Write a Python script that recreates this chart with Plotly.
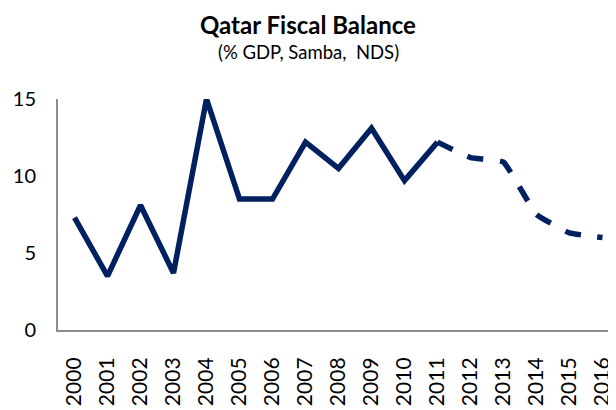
import plotly.graph_objects as go

years = [str(y) for y in range(2000, 2017)]
actual = [7.3, 3.5, 8.1, 3.7, 15.0, 8.5, 8.5, 12.2, 10.5, 13.1, 9.7, 12.2]
forecast = [12.2, 11.2, 10.9, 7.5, 6.3, 6.0]

navy = "#002060"

fig = go.Figure()
fig.add_trace(go.Scatter(x=years[:12], y=actual, mode="lines",
                         line=dict(color=navy, width=5.5), showlegend=False))
fig.add_trace(go.Scatter(x=years[11:], y=forecast, mode="lines",
                         line=dict(color=navy, width=5.5, dash="dash", shape="spline", smoothing=0.3),
                         showlegend=False))

# page body has an 8px margin, so offsets below are relative to the figure
L, T, B, R = 50, 91, 88, 5
plot_h = 410 - T - B
plot_w = 616 - L - R

fig.update_layout(
    width=616, height=410,
    margin=dict(l=L, r=R, t=T, b=B),
    paper_bgcolor="white", plot_bgcolor="white",
    font=dict(family="Lato, Open Sans, sans-serif", color="black"),
    annotations=[
        dict(text="<b>Qatar Fiscal Balance</b>", xref="paper", yref="paper",
             x=(300 - L) / plot_w, y=(plot_h + T) / plot_h, yanchor="top",
             showarrow=False, font=dict(size=24)),
        dict(text="(% GDP, Samba,  NDS)", xref="paper", yref="paper",
             x=(300 - L) / plot_w, y=(plot_h + T - 44) / plot_h, yanchor="middle",
             showarrow=False, font=dict(size=18.5)),
    ],
)

fig.update_xaxes(type="category", range=[-0.5, 16.5], showline=True, linecolor="#8c8c8c",
                 linewidth=2, showgrid=False, ticks="", tickangle=-90,
                 tickfont=dict(size=21), ticklabelstandoff=17)
fig.update_yaxes(range=[0, 15], tickvals=[0, 5, 10, 15], showline=True, linecolor="#8c8c8c",
                 linewidth=2, showgrid=False, zeroline=False, ticks="",
                 tickfont=dict(size=20), ticklabelstandoff=16)

fig.write_html("out.html")
